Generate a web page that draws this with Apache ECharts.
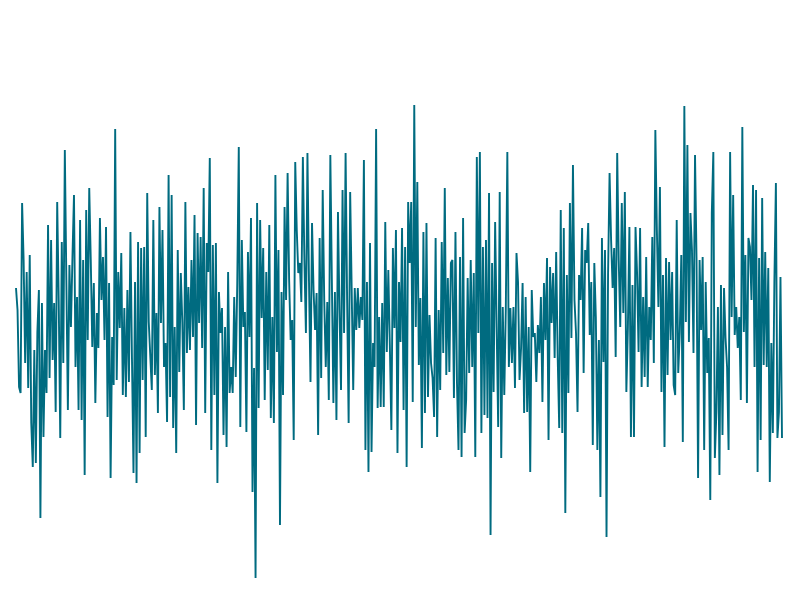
<!DOCTYPE html>
<html>
<head>
<meta charset="utf-8">
<script src="https://cdn.jsdelivr.net/npm/echarts@6/dist/echarts.min.js"></script>
<style>
html,body{margin:0;padding:0;background:#ffffff;}
#main{width:800px;height:600px;}
</style>
</head>
<body>
<div id="main"></div>
<script>
// Signal values, in consecutive segments (left to right)
const seg1 = [32, 10, -67, -73, 117, 60, -43, 48, -68, 65, -103, -147, -30, -143, -12, 30, -198, 17, -117, -30, -73, 95, -58, 80, -40, 17, -92, 118, 20, -118, 78, -43, 170, 40, -90, 55, -7, 63, 125, -47, 23, -90, 100];
const seg2 = [-100, 60, -155, 110, -20, 132, 60, -27, 37, -83, 7, -28, 102, 20, 63, -20, 93, -97, 37, -158, -17, -65, 191, -60, 48, -8, 67, -75, 12, -77, 30, -62, 88, -38, -153, 38, -163, 78, -133, 72, -60, 73, -117, 127, -2];
const seg3 = [-3, -70, 100, -55, 7, -93, 113, -3, 90, -47, -23, -102, 145, -77, 125, -108, -7, -133, 70, -52, 47, -2, -90, 118, -33, 33, -30, 60, -17, 105, -105, 87, -3, 83, -28, 132, -93, 77, 48, 162, -130, 75, -75, 77, -163];
const seg4 = [28, -13, 12, -115, -7, -127, 48, -73, -47, -73, 23, -57, 37, 173, -107, 80, -7, 8, -112, 68, -17, 102, -172, -48, -258, 117, -88, 100, 2, 72, -80, 48, -50, 95, -98, 3, -103, 145, -32, 70, -205, 28, -75, 113];
const seg5 = [20, 147, 40, -20, 0, -120, 158, 90, 47, 57, 18, 163, 60, -13, 167, 40, -62, 97, 30, -10, 27, -115, 82, -58, 130, 20, -47, 18, -80, 165, 40, -83, 28, -100, 108, 10, -70, 130, -13, 167, 20, -103, 128, 30, -70, 32, -10, 32, -8, 23];
const seg6 = [0, 160, -130, 38, -152, 77, -132, -23, -47, 191, -88, 3, -87, 17, -87, 98, -32, 50, -25, -110, 72, -8, 90, -133, 38, -22, 92, -90, 73, -147, 118, 57, 118, -82, 215, -7, 138, -45, 22, -128, 88, -93, 97, -77, 5, -43];
const seg7 = [-58, -97, 82, -117, 10, -70, 78, -33, 132, -55, 42, -52, 57, 60, -78, 88, -63, -130, 63, -137, 102, -113, -80, 42, -53, 60, -47, 47, -137, 163, -13, 168, -113, 73, -95, 80, -98, 127, -215, 57, -72, 98, -8, -107, 128];
const seg8 = [-138, 13, -75, 12, 168, -47, 12, -43, 13, -68, 67, 38, -60, -28, 37, -93, 23, -92, -7, -152, 30, -17, -13, -62, -5, -33, 23, -82, 37, -20, 62, -120, 53, -3, 47, -38, 68, -37, -108, 110, -113, 92, -193, 45, -73];
const seg9 = [117, -18, 155, 20, -13, -92, 45, 20, 92, -53, 70, 57, 97, -15, 38, -125, 57, 3, -130, -20, -177, 82, -42, 70, -217, 45, 147, 80, 32, 72, -37, 167, 60, -7, 117, 7, 128, -72, -8, 93, -117, 35, -117, 93, 48, -32, 92];
const seg10 = [-67, 23, -57, 63, -67, 13, -20, 83, -43, 190, 90, 13, 133, -72, 45, -127, 62, -55, 58, -20, 48, -65, -75, 100, -53, -13, 65, -122, 214, -2, 175, -22, 107, 70, -33, 165, 60, -158, 60, -10, 63, -130, 38, -53, -18, -180];
const seg11 = [107, 168, -138, -92, 13, -155, 35, -115, 32, -18, -47, -130, 168, 3, 125, -15, 13, -28, 3, -80, 193, -12, 65, -83, 82, 73, 20, 135, -47, 130, -152, 62, -120, 122, -45, 68, -47, 52, -162, -23, -113, 38, 137, -118, -92, 43, -118];

const values = [].concat(seg1, seg2, seg3, seg4, seg5, seg6, seg7, seg8, seg9, seg10, seg11);
const categories = values.map(function (_, i) { return String(i + 1); });

const chart = echarts.init(document.getElementById('main'), null, { renderer: 'canvas' });
chart.setOption({
  animation: false,
  backgroundColor: '#ffffff',
  grid: { left: 16, right: 18, top: 0, bottom: 0, containLabel: false },
  xAxis: {
    type: 'category',
    data: categories,
    boundaryGap: false,
    show: false
  },
  yAxis: {
    type: 'value',
    min: -280,
    max: 320,
    show: false
  },
  series: [{
    type: 'line',
    data: values,
    showSymbol: false,
    symbol: 'none',
    lineStyle: { color: '#006b80', width: 1.9 },
    itemStyle: { color: '#006b80' }
  }]
});
</script>
</body>
</html>
